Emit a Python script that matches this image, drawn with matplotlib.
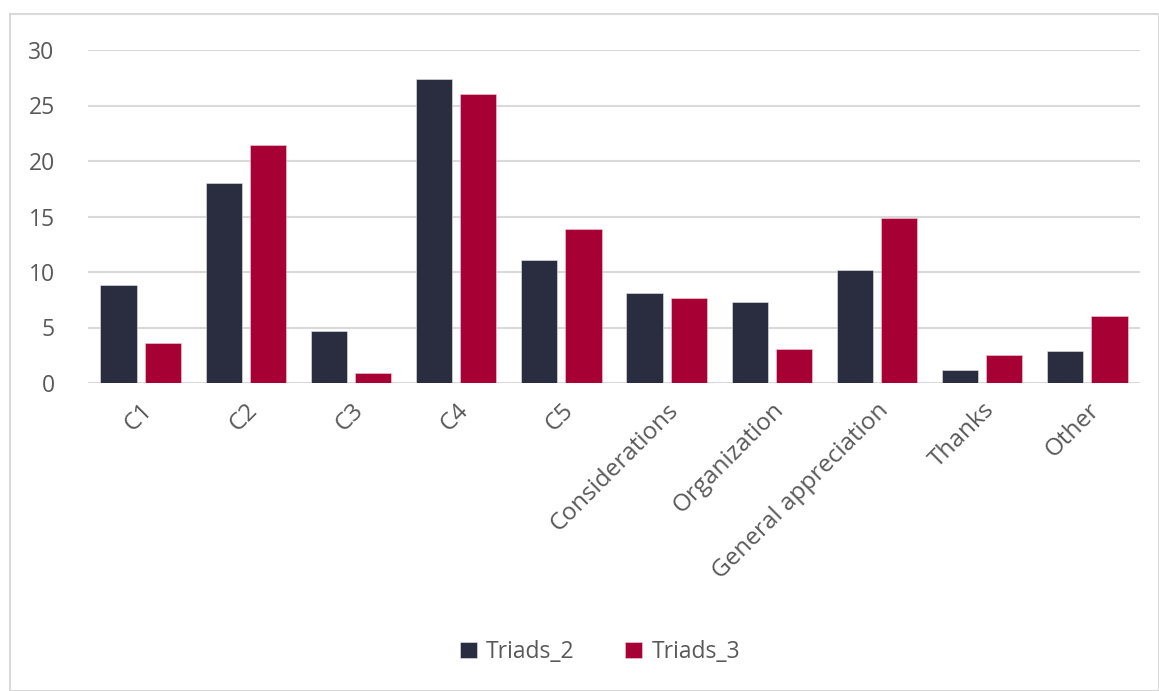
import matplotlib
matplotlib.use("Agg")
import matplotlib.pyplot as plt
import numpy as np
from matplotlib.patches import Rectangle

categories = ["C1", "C2", "C3", "C4", "C5", "Considerations", "Organization",
              "General appreciation", "Thanks", "Other"]
triads_2 = [8.8, 18.0, 4.7, 27.4, 11.1, 8.1, 7.3, 10.2, 1.2, 2.9]
triads_3 = [3.6, 21.4, 0.9, 26.0, 13.9, 7.7, 3.1, 14.9, 2.5, 6.0]
series_names = ["Triads_2", "Triads_3"]
yticks = [0, 5, 10, 15, 20, 25, 30]

plt.rcParams['font.family'] = ['Open Sans', 'DejaVu Sans']

fig = plt.figure(figsize=(11.59, 6.91), dpi=100)
fig.patches.append(Rectangle((10/1159, 0), 1 - 10/1159 - 0.5/1159, 1 - 14/691,
                             transform=fig.transFigure, fill=False,
                             edgecolor="#d9d9d9", linewidth=1.5))
ax = fig.add_axes([88/1159, 1 - 383/691, (1140 - 88)/1159, (383 - 50)/691])

x = np.arange(len(categories))
w = 0.343
off = 0.21
c2 = "#2a2d40"
c3 = "#a60034"
ax.bar(x - off, triads_2, w, color=c2, edgecolor="#e8e8ee", linewidth=0.4,
       label=series_names[0], zorder=3)
ax.bar(x + off, triads_3, w, color=c3, edgecolor="#f0d0d8", linewidth=0.4,
       label=series_names[1], zorder=3)

ax.set_xlim(-0.5, len(categories) - 0.5)
ax.set_ylim(0, 30)
ax.set_yticks(yticks)
ax.yaxis.grid(True, color="#d9d9d9", linewidth=1.5, zorder=0)
ax.set_axisbelow(True)
for s in ax.spines.values():
    s.set_visible(False)
ax.tick_params(axis="both", length=0, labelsize=16.5, labelcolor="#595959")
ax.tick_params(axis="y", pad=24)
ax.set_xticks(x)
ax.set_xticklabels(categories, rotation=45, ha="right", rotation_mode="anchor",
                   fontsize=17.5)
ax.tick_params(axis="x", pad=11)

leg = ax.legend(loc="center", bbox_to_anchor=(600/1159, 1 - 652/691),
                bbox_transform=fig.transFigure, ncol=2, frameon=False,
                fontsize=16.5, handlelength=0.75, handleheight=0.75,
                handletextpad=0.4, columnspacing=2.2)
for t in leg.get_texts():
    t.set_color("#595959")

fig.savefig("out.png", dpi=100)
